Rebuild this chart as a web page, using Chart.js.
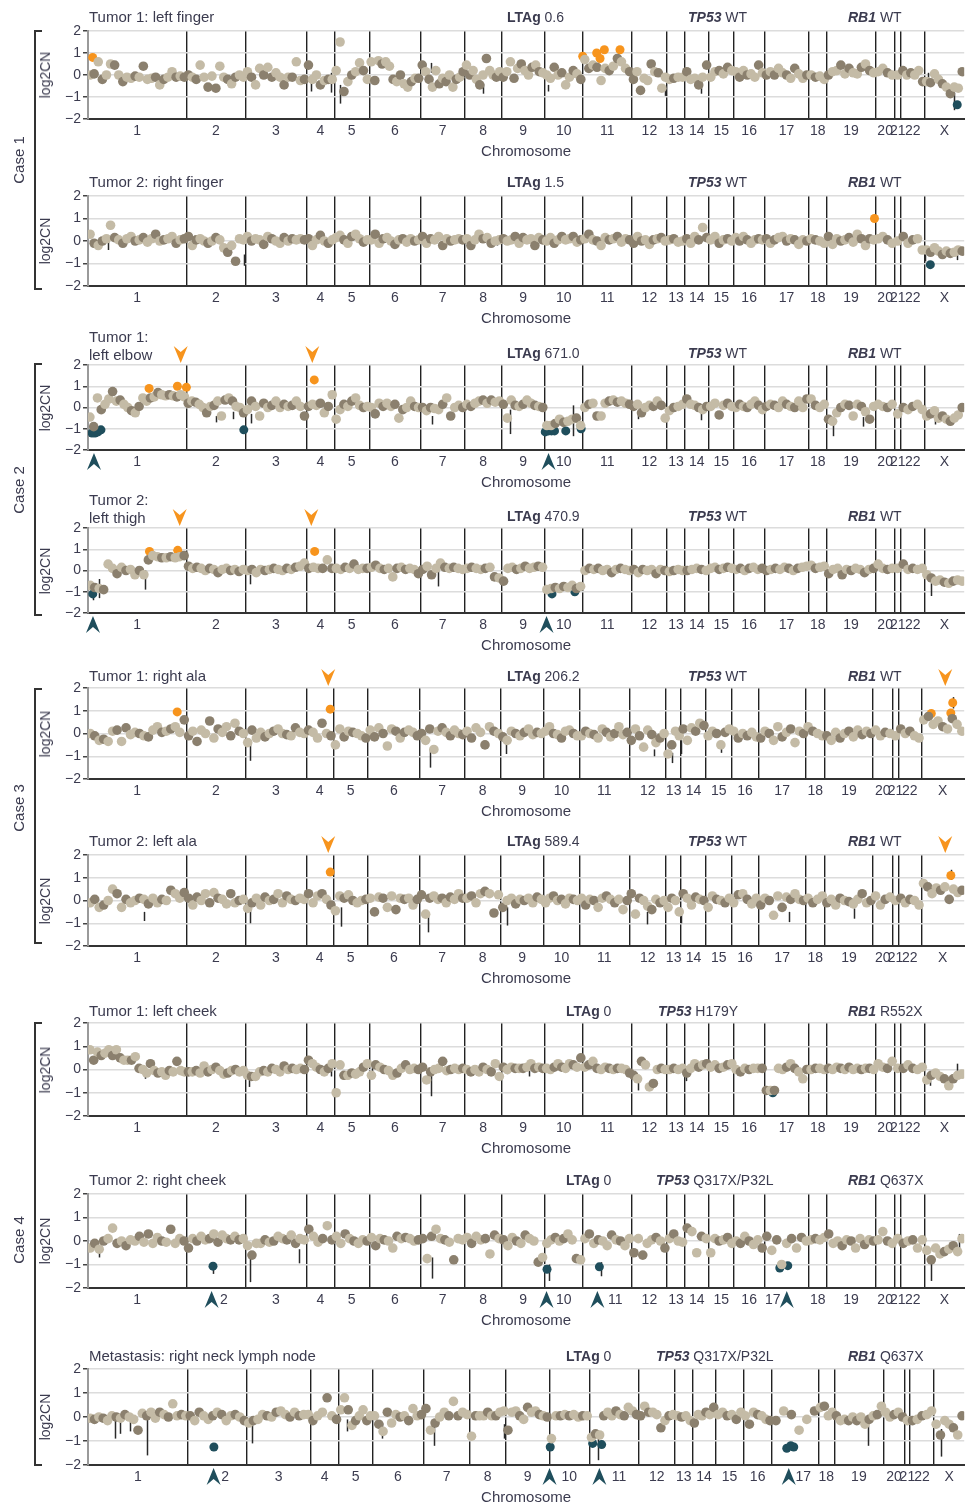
<!DOCTYPE html>
<html>
<head>
<meta charset="utf-8">
<script src="https://cdn.jsdelivr.net/npm/chart.js@4.4.1/dist/chart.umd.min.js"></script>
<style>
  body { margin: 0; width: 969px; height: 1507px; position: relative; background: #fff; overflow: hidden;
         font-family: "Liberation Sans", Arial, sans-serif; color: #3b3b4f; }
  .t { position: absolute; font-size: 15px; line-height: 18px; white-space: nowrap; }
  .g { position: absolute; font-size: 14px; line-height: 18px; white-space: nowrap; }
  .rot { position: absolute; white-space: nowrap; transform: translate(-50%, -50%) rotate(-90deg); }
  .br { position: absolute; border: 2px solid #333; border-right: none; width: 6px; }
  canvas { position: absolute; left: 0; }
</style>
</head>
<body>
<script>
// Chromosome order and relative widths (bins) for the three panel layouts
const chromNames = ['1','2','3','4','5','6','7','8','9','10','11','12','13','14','15','16','17','18','19','20','21','22','X'];
const binsA = [98.7, 59.2, 61.3, 27.8, 35.2, 51.4, 44.4, 36.7, 43.5, 38.1, 49.1, 35.6, 17.7, 23.9, 25.4, 30.5, 44.7, 17.6, 49.5, 18.8, 6.4, 23.8, 39.7];
const binsB = [98.8, 59.2, 61, 27, 35, 51.5, 45.5, 36, 43, 36, 50, 37, 15, 25, 25.5, 27.2, 47.3, 19, 48.7, 19.3, 6, 23, 43];
const binsC = [100.3, 58.7, 64.3, 28.4, 33.6, 51.4, 46, 36.6, 43.4, 40.3, 49.3, 36.7, 17.3, 23.4, 27.6, 29, 46.4, 16, 49.3, 21.3, 5.4, 24, 30.3];

// log2CN per chromosome, case 1 tumor 1 (left finger)
const p1 = [
  [0, 0.05, 0.6, -0.2, 0, 0.5, 0.45, 0, -0.3, -0.1, -0.15, -0.05, -0.1, 0.4, -0.2, -0.15, -0.1, -0.45, -0.2, -0.1, 0.15, -0.1, -0.05, -0.1],
  [0, -0.1, -0.2, 0.45, -0.1, -0.55, -0.05, -0.6, 0.4, -0.1, -0.2, -0.4, -0.1, 0, -0.1],
  [0.15, -0.1, -0.45, 0.3, 0, 0.35, -0.1, 0.1, -0.1, -0.45, -0.1, -0.1, 0.6, -0.25, -0.2],
  [0.45, -0.2, 0, -0.45, -0.25, -0.2, -0.2],
  [0.2, 1.5, -0.75, -0.3, 0, 0.15, 0.55, 0.2, -0.2],
  [0.6, -0.25, 0.65, 0.5, 0.6, 0.4, -0.2, -0.3, 0, -0.4, -0.55, -0.3, -0.15, -0.15],
  [0.45, 0.15, -0.2, -0.55, 0.2, -0.4, -0.15, -0.3, 0, -0.55, -0.2, -0.1, 0.15],
  [0.45, 0, 0.2, -0.2, -0.45, 0, 0.75, 0.2, 0, -0.1, 0.15],
  [-0.1, 0.15, 0.6, -0.15, 0.3, 0.5, 0.2, 0, 0.35, 0.45, 0.15, 0.1],
  [0, -0.15, 0.35, 0, 0.1, -0.45, -0.1, 0.2, 0.05, -0.2],
  [0.7, 0.3, 0.45, 0.35, -0.25, 0.3, 0.2, 0.4, 0.75, 0.6, 0.3, 0.15],
  [-0.2, 0.15, -0.7, -0.15, -0.25, 0.5, 0.15, 0.1, -0.6, -0.1],
  [-0.2, -0.15, -0.1, -0.1],
  [0.15, -0.2, -0.15, -0.45, -0.1, 0.45],
  [-0.1, 0.15, 0.2, 0.05, 0.35, 0.2],
  [0.15, -0.1, 0.2, 0, 0.05, -0.1, 0.45, 0.1],
  [0, 0.15, 0, 0.3, 0.1, 0, -0.15, 0.3, 0.05, -0.15, 0],
  [0, -0.1, -0.05, -0.2],
  [0, 0.15, 0.2, 0.45, 0.05, 0.3, 0.1, 0.05, 0.35, 0.5, 0.2, 0.1],
  [0.15, 0.3, 0.1, 0],
  [0],
  [0.2, 0, 0.1, 0, 0.2, -0.3],
  [-0.3, -0.35, 0.05, -0.2, -0.4, -0.55, -0.85, -0.55, -0.6, 0.15]
];
// case 1 tumor 2 (right finger)
const p2 = [
  [0.3, -0.1, -0.2, 0, 0.1, 0.7, 0.15, 0.05, -0.1, 0.1, 0.2, 0, 0.05, 0.15, -0.05, 0.1, 0.3, 0, 0.05, 0.1, 0.2, -0.1, 0.05, 0.1],
  [0.2, -0.2, 0.05, 0.1, 0, -0.1, 0, 0.15, 0.05, -0.3, -0.5, -0.2, -0.9, 0.1, 0.05],
  [0.2, 0, 0.1, 0.05, -0.15, 0.2, 0.1, 0, -0.1, 0.15, 0, 0.1, 0.05, 0.1, 0.05],
  [0.1, -0.2, 0.05, 0.25, 0, -0.1, 0.05],
  [0.15, 0.25, 0.05, -0.1, 0.2, 0.3, 0.1, -0.05, 0.05],
  [0.05, 0.3, -0.1, 0.1, 0.15, 0, -0.15, 0.05, 0.1, -0.05, 0.1, 0, 0.05],
  [0.2, -0.1, 0.1, 0.05, 0.2, -0.2, 0.1, 0, 0.05, 0.1, 0.05],
  [0.1, -0.2, 0.05, 0.3, 0.1, 0.15, -0.1, 0, 0.05],
  [0.1, 0, 0.05, 0.2, -0.1, 0.15, 0.05, 0.1, -0.2, 0.15, 0.05],
  [0, 0.15, -0.1, 0.05, 0.2, 0.05, 0.1, 0.2, -0.05, 0.05],
  [0.1, 0.3, 0.05, 0, -0.2, 0.15, 0.05, 0.1, 0.2, -0.05, 0.1, 0.05],
  [-0.1, 0.2, 0, 0.05, -0.15, 0.05, 0.1, 0.15, 0],
  [0.05, 0.1, -0.05, 0],
  [0.1, -0.1, 0.2, 0.05, 0.6, 0.15],
  [0.05, 0.2, -0.1, 0.05, 0.1, 0],
  [0.15, 0, 0.2, 0.05, -0.1, 0.05, 0.1, 0.05],
  [0.1, -0.1, 0.05, 0.15, 0.2, 0, 0.1, 0.05, -0.15, 0.05, 0],
  [0.1, 0.05, 0, -0.1],
  [0.2, -0.15, 0.1, 0, 0.05, 0.15, -0.05, 0.3, 0.1, -0.2, 0.1, 0.05],
  [0.1, 0.2, 0.05, -0.1],
  [0],
  [0.2, -0.1, 0.05, 0.1, -0.4],
  [-0.4, -0.5, -0.3, -0.45, -0.6, -0.45, -0.55, -0.5, -0.4, -0.45]
];
// case 2 tumor 1 (left elbow)
const p3 = [
  [-0.45, -0.9, 0.45, -0.1, 0.15, 0.4, 0.75, 0.3, 0.35, 0.15, 0, -0.15, -0.25, 0.05, 0.45, 0.3, 0.45, 0.5, 0.7, 0.6, 0.55, 0.6, 0.55, 0.5, 0.6, 0.5],
  [0.2, 0.3, 0.25, 0.15, 0, -0.25, 0.05, 0.1, 0.3, -0.4, 0.35, 0.45, 0.3, 0.05, 0, -0.25],
  [-0.1, 0.3, 0.05, -0.4, 0.2, 0, 0.1, 0.3, 0, 0.15, 0.05, 0.1, 0.3, 0.05, -0.4],
  [0.05, 0.15, 0.1, 0.2, -0.25, 0.05, 0.6],
  [-0.55, -0.1, 0.15, 0.05, 0.3, 0.45, 0.1, 0, 0.05],
  [0, -0.3, 0.2, 0.05, 0.2, 0.05, 0.15, -0.5, -0.1, 0, 0.3, 0.05, 0],
  [0, -0.15, 0, -0.05, -0.1, 0.15, 0.45, -0.4, 0, 0.1, 0],
  [0.15, 0.05, 0.2, 0.3, 0.35, 0.2, 0.35, 0.25, 0.3],
  [0.15, -0.5, 0.35, 0.1, 0.05, 0.15, 0.35, 0.2, 0.1, 0.05, 0],
  [-0.85, -0.85, -0.75, -0.55, -0.7, -0.65, -0.55, -0.5, -0.85],
  [0, 0.15, 0.2, -0.4, -0.4, 0.2, 0.3, 0.35, 0.25, 0.3, 0.2, 0.15],
  [0.05, 0.15, -0.25, 0, 0.1, 0.05, 0.3, 0.1, -0.5],
  [-0.15, 0, 0.05, 0.15],
  [0.4, 0.15, 0.1, 0, -0.1, 0.05],
  [0.05, 0.2, -0.35, 0.1, 0.2, 0.05],
  [0, 0.15, 0.05, 0, 0.15, 0.3, 0.1, -0.1],
  [0.05, 0.15, 0.1, 0, 0.3, 0.15, 0.05, 0, 0.3, 0, 0.4],
  [0.4, 0.1, 0, 0.15],
  [-0.55, -0.65, -0.25, 0, 0.15, 0.1, -0.4, 0.15, 0.05, -0.2, -0.55, 0.05],
  [0.15, 0.05, 0, 0.15],
  [-0.3],
  [0, -0.1, 0.05, 0.15, -0.1],
  [-0.4, -0.3, -0.15, -0.5, -0.4, -0.55, -0.65, -0.5, -0.35, 0]
];
// case 2 tumor 2 (left thigh)
const p4 = [
  [-0.7, -0.8, -0.85, -0.9, 0.3, 0.1, -0.15, 0.15, 0, 0.05, -0.2, 0, -0.2, 0.5, 0.7, 0.65, 0.6, 0.6, 0.65, 0.6, 0.65, 0.7],
  [0.2, 0.1, 0.15, 0.1, 0, 0.1, 0.05, -0.1, 0.05, 0.1, 0, 0.05, -0.05, 0.05],
  [0, 0.05, -0.1, 0.05, 0, 0.05, 0.1, 0.05, 0, 0.1, 0.05, 0.15, 0.2, 0.35],
  [0.1, 0.15, 0.1, 0.1, 0.5, 0.1],
  [0.1, 0.05, 0.15, 0.1, 0.3, 0.05, 0.1, 0.1],
  [0.15, 0.25, 0.1, 0.05, 0.1, -0.3, 0.1, 0.15, 0.05, 0.1, 0.05, -0.15],
  [0.05, 0.2, -0.2, 0.1, 0.35, 0.15, 0.1, 0.15, 0.1, 0.05],
  [0.1, 0.15, 0.1, 0.05, 0.1, 0.15, -0.3, -0.35],
  [-0.5, 0.1, 0.15, 0.05, 0.1, 0.2, 0.1, 0.15, 0.2, 0.15],
  [-0.9, -0.85, -0.8, -0.85, -0.75, -0.8, -0.7, -0.85, -0.75],
  [0, 0.1, 0.05, 0.1, 0, 0.05, -0.1, 0.05, 0.1, 0.05, 0],
  [0.05, -0.1, 0.05, 0, 0.05, -0.15, 0.05, 0],
  [-0.05, 0, 0.05, 0],
  [0, 0.05, 0.1, 0.05, 0],
  [0.1, 0.15, 0.05, 0.1, 0.15, 0.1],
  [0.05, 0.1, 0, 0.1, 0.15, 0.05, 0.1],
  [0, 0.05, 0.1, 0.05, 0.15, 0.1, 0, 0.1, 0.15, 0.2],
  [0.25, 0.1, 0.15, 0.2],
  [-0.15, 0.05, 0.1, -0.2, 0.05, 0, 0.1, 0.05, -0.1, 0.05, 0.1],
  [0.3, 0.1, 0.05, 0.1],
  [0.1],
  [0.3, 0.05, 0.1, 0.05, 0.1],
  [-0.2, -0.35, -0.5, -0.45, -0.55, -0.6, -0.5, -0.45, -0.5]
];
// case 3 tumor 1 (right ala)
const p5 = [
  [0, -0.1, -0.3, -0.25, -0.35, 0.1, 0.15, -0.35, 0.25, -0.05, 0.05, 0, -0.1, -0.15, 0.15, 0.3, 0.05, 0.1, 0.2, 0.3, 0.05, 0.6],
  [-0.1, 0.1, -0.35, 0.15, 0, 0.55, -0.2, 0.2, 0.05, 0.3, -0.1, 0.45, 0.1, 0],
  [-0.4, 0.15, -0.2, 0.05, -0.15, 0, 0.1, 0.2, 0, -0.05, -0.1, 0.25, 0.05, 0],
  [0.15, 0.05, -0.2, 0.45, 0, -0.1],
  [-0.5, 0.2, -0.15, 0.1, 0.05, 0, -0.1, -0.2],
  [0.15, -0.15, 0.25, 0, -0.55, 0.2, 0.1, -0.2, 0.05, 0.15, 0.05, -0.1],
  [0, -0.3, 0.2, -0.7, 0.1, 0.25, 0.05, -0.1, 0.15, 0, -0.05],
  [0.1, -0.2, 0.25, 0.05, -0.5, 0.3, 0.1, 0],
  [-0.15, -0.3, 0.1, 0, -0.1, 0.05, 0.2, -0.05, 0.05, 0],
  [0.1, 0.3, 0, -0.05, -0.2, 0.1, 0.15, 0, -0.1],
  [-0.1, 0.1, 0, -0.05, -0.2, 0.2, 0.05, -0.15, 0, 0.3, -0.05, 0.05],
  [-0.3, 0.2, -0.1, -0.6, 0.15, -0.05, -0.4, -0.2, 0],
  [-0.9, -0.5, 0.1, -0.1],
  [0.2, -0.3, 0.25, 0.1, 0.45, 0.35],
  [-0.1, 0.1, 0, -0.5, 0.05, 0.2],
  [0.1, -0.2, 0, -0.1, 0.05, -0.15],
  [-0.2, 0.1, 0, -0.3, 0.3, -0.15, 0.05, 0.2, -0.4, 0.1, 0],
  [0.3, 0.1, 0, -0.1],
  [-0.1, -0.3, 0.05, -0.2, 0, 0.1, -0.15, 0.15, -0.05, 0.1, 0],
  [0.15, -0.1, 0.05, 0],
  [-0.1],
  [0.2, 0, 0.1, -0.1, -0.2],
  [0.6, 0.75, 0.4, 0.55, 0.3, 0.2, 0.65, 0.4, 0.1]
];
// case 3 tumor 2 (left ala)
const p6 = [
  [-0.1, 0.05, -0.3, -0.2, 0, 0.5, 0.3, -0.3, 0.05, -0.1, 0, 0.1, 0.05, -0.15, 0.1, -0.1, 0.05, 0, 0.45, 0.3, 0.1, 0.35],
  [0.1, -0.2, 0.15, 0, 0.3, -0.1, 0.35, 0.1, 0.05, -0.15, 0.3, -0.1, 0, 0.05],
  [-0.35, -0.1, 0.1, -0.2, 0.15, 0, 0.05, 0.3, -0.1, 0.2, 0.05, 0, 0.1, 0.05],
  [0.3, -0.1, 0.2, 0.3, 0.05, -0.2],
  [-0.45, 0.2, 0.1, 0.25, 0, -0.1, 0, 0.05],
  [0.1, -0.5, 0.15, 0.1, -0.3, 0.2, -0.4, 0.1, 0.05, 0.1, -0.2, 0.05],
  [0.25, -0.6, 0.1, 0.2, 0.05, 0.1, -0.1, 0.15, 0.05, 0.3, 0.1],
  [0.1, 0.2, -0.1, 0.3, 0.4, 0.3, -0.55, 0.25],
  [-0.3, 0, 0.1, -0.15, 0.05, 0, 0.1, -0.1, 0.15, 0.05],
  [-0.1, 0.1, 0.2, 0, 0.05, -0.15, 0.1, 0.05, 0],
  [0.1, -0.2, 0.05, 0, -0.3, 0.1, 0.2, 0.05, -0.1, 0.05, -0.4, 0],
  [0.3, -0.6, 0.1, 0, -0.25, -0.4, 0.05, -0.1, 0],
  [-0.3, 0.1, 0, -0.5],
  [0.3, 0.1, -0.2, 0.15, 0.05, 0],
  [-0.3, 0.2, 0.05, 0, -0.1, 0.1],
  [-0.1, 0.25, 0.3, 0.05, -0.15, 0.1],
  [-0.2, 0.1, 0, -0.65, 0.2, -0.3, 0.15, 0.05, 0.3, 0.05, 0],
  [0.1, -0.1, 0.05, 0.2],
  [-0.1, 0.05, -0.2, 0.1, 0, -0.05, -0.15, 0.05, 0.3, -0.1, 0],
  [0.2, -0.2, 0.05, 0.15],
  [0],
  [0.1, -0.1, 0.05, 0, -0.2],
  [0.75, 0.6, 0.3, 0.55, 0.45, 0.6, 0.05, 0.5, 0.35, 0.45]
];
// case 4 tumor 1 (left cheek)
const p7 = [
  [0.85, 0.4, 0.75, 0.6, 0.7, 0.85, 0.6, 0.85, 0.5, 0.4, 0.4, 0.4, 0.55, 0.05, 0, -0.15, 0.25, -0.05, -0.15, -0.1, -0.25, -0.05, -0.1, 0.35, -0.05, -0.1],
  [-0.1, -0.1, -0.05, -0.15, 0.15, -0.1, 0, 0.1, -0.05, -0.2, -0.15, -0.05, 0, -0.1, -0.05],
  [-0.25, -0.3, -0.3, -0.1, -0.05, -0.1, 0.05, 0, -0.1, 0.15, 0, 0.05, 0, 0.05, 0],
  [0.4, 0.25, 0.1, 0, -0.1, 0.05, 0.25],
  [-1.0, 0.2, -0.25, -0.25, -0.15, -0.2, -0.1, 0.1, 0.25],
  [-0.25, 0.2, 0.1, 0, -0.05, -0.25, -0.15, 0.05, 0.2, 0, 0.05, 0],
  [0.1, -0.45, -0.1, 0, 0.05, 0.35, -0.05, 0, 0.05, 0, 0.05],
  [0, -0.1, 0, -0.1, 0.1, 0, -0.1, 0.25, -0.3],
  [0.1, 0, 0.1, 0.05, 0.05, 0.05, 0.1, 0.25, 0.05, 0.1, 0.05],
  [0.05, 0, 0.1, 0.25, 0.1, 0.05, 0.25, 0.2, 0.1, 0.5],
  [0.1, 0.2, 0.35, 0.05, 0, 0.1, 0.05, 0, 0.05, 0.05, 0, -0.15],
  [-0.25, -0.4, 0.35, 0.2, -0.75, -0.6, 0, 0.05, 0],
  [0, 0.05, 0, 0.05],
  [-0.15, 0.05, 0.25, 0.1, 0.2, 0.25],
  [0.1, 0.2, 0.05, 0.1, 0.2, 0.25],
  [0, -0.1, 0.05, 0, 0.05, 0.05, 0.05],
  [-0.9, -0.9, -0.9, 0.05, 0, 0.1, 0.25, 0.05, -0.1, -0.4, 0],
  [0, 0.05, 0.05, 0],
  [0.05, 0, 0.1, 0.05, 0, 0.1, 0, 0.05, 0, 0.05, 0.05, 0],
  [0.25, 0.1, 0.05, 0.35],
  [0.05],
  [0.05, 0.2, 0.05, 0, 0.1],
  [-0.45, -0.25, -0.15, -0.3, -0.4, -0.7, -0.4, -0.25, -0.2]
];
// case 4 tumor 2 (right cheek)
const p8 = [
  [-0.3, -0.1, -0.35, 0, 0.1, 0.55, -0.1, 0, -0.2, 0.05, 0, 0.2, -0.05, 0.3, -0.1, 0.15, 0, -0.05, 0.5, -0.1, 0.1, 0],
  [-0.3, 0.1, 0, 0.2, 0.05, 0.1, 0.3, -0.05, 0.25, 0.1, 0.05, 0.2, 0.05, 0.1],
  [-0.2, -0.6, -0.1, -0.1, 0.05, -0.05, 0, 0.2, 0.1, 0.05, 0.25, -0.1, 0.1, 0.05],
  [0.5, 0.2, -0.05, 0.1, 0.65, 0.05],
  [0.2, -0.1, 0.3, 0.1, 0, -0.1, 0.05, 0],
  [0.15, -0.2, 0.1, 0.05, 0, -0.3, 0.2, 0.1, 0.15, 0.1, 0, 0.05],
  [0.1, -0.75, 0.2, 0.5, 0.1, 0.05, -0.05, -0.8, 0.1, 0.05],
  [0.15, -0.1, 0.2, 0.05, 0.1, -0.55, 0.25, 0.1],
  [0.05, -0.2, 0.15, 0, -0.1, 0.25, 0.1, 0, -0.9, -0.7],
  [-0.1, 0.05, 0.15, 0, 0.1, 0.3, 0.05, -0.75, -0.8],
  [0.1, 0.3, -0.1, 0.05, 0, -0.2, 0.25, 0.05, 0, -0.2, 0.1],
  [-0.5, 0.1, -0.6, -0.1, 0.05, 0.15, 0, -0.3],
  [0.1, 0.3, 0, -0.05],
  [0.55, 0.4, -0.5, 0.2, 0.1],
  [-0.5, 0.1, 0, 0.05, 0.15, -0.1],
  [0, -0.1, 0.2, 0, -0.15, 0.05, -0.3],
  [0.2, -0.4, 0.05, -1.0, -0.1, 0.1, -0.3, 0.15, 0],
  [0.05, 0.1, 0.05, 0.15],
  [0.3, -0.1, 0, -0.2, 0.05, 0, -0.3, 0.1, -0.15, 0.05, 0],
  [0.05, 0.4, 0, -0.1],
  [0.1],
  [-0.1, 0, 0.05, -0.3, 0.05],
  [-0.4, -0.8, -0.3, -0.55, -0.45, -0.35, -0.2, -0.45, 0.1]
];
// case 4 metastasis (right neck lymph node)
const p9 = [
  [-0.05, -0.1, 0, -0.05, -0.15, 0.05, 0, -0.05, 0.1, 0, -0.1, -0.55, 0.15, 0.05, 0.2, -0.05, 0.2, 0.1, 0, 0.55, 0.05, 0.1, 0.05],
  [0.05, -0.15, 0.2, 0.05, -0.1, 0.05, 0.2, 0.1, -0.15, 0.05, 0.1, 0, -0.15],
  [-0.25, -0.15, -0.1, 0.1, 0.05, 0, 0.2, 0.25, 0.1, 0, 0.2, 0.05, 0.1, 0.1],
  [-0.15, 0.05, 0.2, 0.8, 0.05, -0.1],
  [0.3, 0.8, 0.3, -0.35, -0.15, 0.05, 0.3, -0.15, 0.05],
  [0.05, -0.3, -0.6, 0.2, -0.25, 0.1, 0, 0.05, -0.15, 0.35, 0.05, 0.1],
  [0.35, -0.55, -0.25, 0, 0.2, 0.05, 0.65, 0.05, 0.2, 0.1],
  [-0.8, 0.05, 0.05, 0.05, 0.2, 0.05, 0.05, 0.2, 0.25],
  [-0.55, 0.2, 0.25, 0.05, -0.1, 0.4, 0.2, 0.25, 0.1, 0.05, 0],
  [-0.9, 0.05, 0.05, 0.1, 0.05, 0.1, 0, 0.05, 0.05],
  [-0.85, -0.7, -0.75, 0.05, 0.2, 0.05, 0.25, 0.1, 0.05, 0.4, 0.25, 0.1],
  [0.05, 0.45, 0.2, 0.2, 0.1, -0.45, -0.15, 0.05, 0.1],
  [0.05, 0, 0.05, -0.15],
  [-0.25, 0.1, 0.05, 0.2, 0.1, 0.4],
  [0.1, 0.2, 0.05, 0.1, -0.1, 0.2],
  [0.05, -0.3, 0.2, 0.1, 0.05, -0.1, -0.15],
  [-0.15, 0.25, 0.1, -0.55, -0.1, 0.25],
  [0.4, 0.45, 0.05, 0.2],
  [0.05, -0.15, -0.1, -0.15, 0, -0.15, 0, -0.3, -0.1, 0.05, 0.1, 0.45],
  [0.2, 0, 0.1, 0.2, 0],
  [-0.15],
  [-0.15, -0.1, 0.05, 0.1, 0.25],
  [-0.3, -0.75, -0.15, -0.3, -0.45, -0.75, 0.05]
];

// highlighted gains (orange) and losses (teal): [genome position, log2CN]
const gains1 = [[4.7, 0.8], [496.3, 0.85], [510.3, 1.0], [513.7, 0.75], [518, 1.15], [533.7, 1.15]];
const losses1 = [[872, -1.35]];
const gains2 = [[789, 1.0]];
const losses2 = [[845, -1.05]];
const gains3 = [[61.3, 0.9], [89.7, 1.0], [98.7, 0.95], [227, 1.3]];
const losses3 = [[4, -1.2], [7, -1.2], [10, -1.15], [13, -1.05], [156.3, -1.05], [458.7, -1.15], [462, -1.1], [465, -1.1], [468, -1.1], [479.3, -1.1], [494.7, -1.0]];
const gains4 = [[61.7, 0.9], [90, 0.95], [227.4, 0.9]];
const losses4 = [[4.8, -1.1], [465.5, -1.1], [488.4, -1.0]];
const gains5 = [[89.5, 0.95], [243, 1.07], [846, 0.88], [865.6, 0.9], [867.5, 1.35]];
const gains6 = [[243, 1.25], [865.6, 1.1]];
const losses7 = [[687, -1.0]];
const losses8 = [[125.4, -1.07], [460.5, -1.2], [513, -1.1], [694, -1.15], [702, -1.05]];
const losses9 = [[126.3, -1.25], [463.7, -1.25], [506.3, -1.1], [515.3, -1.15], [701, -1.3], [705, -1.2], [708, -1.25]];

// error bars: [genome position, upper, lower]
const errors1 = [[224, -0.3, -0.75], [244, 0.1, -0.8], [253, -0.45, -1.3], [344, 0.55, 0.1], [396, -0.4, -0.85], [461, -0.45, -0.75], [579, -0.6, -0.95], [615, -0.2, -0.85], [843, 0.1, -0.25], [869, -0.8, -1.6]];
const errors2 = [[20, 0, -0.4], [157, -0.6, -1.1], [410, 0.2, -0.2], [840, -0.4, -0.9], [872, -0.35, -0.85]];
const errors3 = [[128.7, -0.4, -0.7], [145, -0.2, -0.55], [163.7, -0.3, -0.75], [344.7, -0.4, -0.8], [423, -0.1, -1.25], [487, 0.1, -1.35], [552, -0.25, -0.55], [614.7, 0, -0.6], [747, -0.55, -1.35], [777, -0.45, -0.9], [850, -0.5, -0.8]];
const errors4 = [[4.8, -0.9, -1.4], [11, -0.4, -1.3], [57, 0, -0.9], [162.5, -0.2, -0.65], [351, 0, -0.75], [487, -0.6, -1.2], [846, -0.6, -1.2]];
const errors5 = [[162.5, -0.3, -1.2], [343, -0.7, -1.5], [419, -0.3, -0.9], [567.5, -0.7, -1.0], [586, -0.85, -1.3], [595, -0.3, -0.9], [635.5, -0.4, -0.85], [867.5, 1.6, 1.1]];
const errors6 = [[56, -0.5, -0.9], [162.5, -0.4, -1.0], [254, -0.3, -1.15], [340.6, -0.6, -1.4], [420, -0.3, -1.1], [561, -0.5, -1.05], [595, -0.35, -1.0], [703.6, -0.5, -0.95], [768.5, -0.35, -0.8], [865.6, 1.35, 0.9]];
const errors7 = [[57, -0.2, -0.4], [162, -0.2, -0.75], [243.7, 0.35, -0.3], [247, -0.8, -1.2], [285.3, 0.3, -0.35], [344, -0.2, -1.15], [420, 0.1, -0.2], [442, 0.35, -0.3], [552, -0.4, -0.9], [600, 0.15, -0.5], [845, -0.1, -0.7], [872, 0.25, -0.1]];
const errors8 = [[11, -0.2, -0.7], [125.4, -0.9, -1.4], [162.5, -0.5, -1.75], [212, -0.35, -0.95], [345, -0.7, -1.6], [462.4, -1.0, -1.7], [515, -0.9, -1.5], [846, -0.8, -1.7], [873.7, 0.3, -0.3]];
const errors9 = [[27, -0.1, -0.9], [32, -0.15, -0.7], [42, -0.1, -0.6], [58.7, -0.1, -1.6], [164.7, -0.2, -1.1], [260.3, -0.1, -0.6], [295.3, -0.25, -0.9], [347, -0.4, -1.2], [417, -0.3, -0.9], [512, -0.85, -1.8], [782, -0.35, -1.2], [855.3, -0.5, -1.65]];

// arrowheads: positions on the genome axis
const downArrows3 = [93, 225], upArrows3 = [6, 462];
const downArrows4 = [92, 224], upArrows4 = [5, 460];
const downArrows5 = [241, 860];
const downArrows6 = [241, 860];
const upArrows8 = [124, 460, 511, 701];
const upArrows9 = [126, 463, 513, 703];

const titles = [['Tumor 1: left finger'], ['Tumor 2: right finger'], ['Tumor 1:', 'left elbow'], ['Tumor 2:', 'left thigh'],
  ['Tumor 1: right ala'], ['Tumor 2: left ala'], ['Tumor 1: left cheek'], ['Tumor 2: right cheek'], ['Metastasis: right neck lymph node']];
const ltagValues = ['0.6', '1.5', '671.0', '470.9', '206.2', '589.4', '0', '0', '0'];
const tp53Status = ['WT', 'WT', 'WT', 'WT', 'WT', 'WT', 'H179Y', 'Q317X/P32L', 'Q317X/P32L'];
const rb1Status = ['WT', 'WT', 'WT', 'WT', 'WT', 'WT', 'R552X', 'Q637X', 'Q637X'];
const caseNames = ['Case 1', 'Case 2', 'Case 3', 'Case 4'];

const panels = [
  { bins: binsA, values: p1, gains: gains1, losses: losses1, errors: errors1, down: [], up: [] },
  { bins: binsA, values: p2, gains: gains2, losses: losses2, errors: errors2, down: [], up: [] },
  { bins: binsA, values: p3, gains: gains3, losses: losses3, errors: errors3, down: downArrows3, up: upArrows3 },
  { bins: binsA, values: p4, gains: gains4, losses: losses4, errors: errors4, down: downArrows4, up: upArrows4 },
  { bins: binsB, values: p5, gains: gains5, losses: [], errors: errors5, down: downArrows5, up: [] },
  { bins: binsB, values: p6, gains: gains6, losses: [], errors: errors6, down: downArrows6, up: [] },
  { bins: binsA, values: p7, gains: [], losses: losses7, errors: errors7, down: [], up: [] },
  { bins: binsA, values: p8, gains: [], losses: losses8, errors: errors8, down: [], up: upArrows8 },
  { bins: binsC, values: p9, gains: [], losses: losses9, errors: errors9, down: [], up: upArrows9 }
];

// page layout (pixels); labelShift moves chromosome labels clear of arrowheads
const layout = [
  { top: 31, bottom: 119, titleY: 17, geneY: 17, gx: [507, 688, 848] },
  { top: 196, bottom: 286, titleY: 182, geneY: 182, gx: [507, 688, 848] },
  { top: 365, bottom: 450, titleY: 337, geneY: 353, gx: [507, 688, 848] },
  { top: 528, bottom: 613, titleY: 500, geneY: 516, gx: [507, 688, 848] },
  { top: 688, bottom: 779, titleY: 676, geneY: 676, gx: [507, 688, 848] },
  { top: 855, bottom: 946, titleY: 841, geneY: 841, gx: [507, 688, 848] },
  { top: 1023, bottom: 1116, titleY: 1011, geneY: 1011, gx: [566, 658, 848] },
  { top: 1194, bottom: 1288, titleY: 1180, geneY: 1180, gx: [566, 656, 848], labelShift: { 1: 8, 10: 8, 16: -14 } },
  { top: 1369, bottom: 1465, titleY: 1356, geneY: 1356, gx: [566, 656, 848], labelShift: { 1: 8, 10: 5, 16: 8 } }
];
const caseLayout = [
  { top: 30, bottom: 290, cy: 160 },
  { top: 363, bottom: 616, cy: 490 },
  { top: 688, bottom: 944, cy: 808 },
  { top: 1022, bottom: 1466, cy: 1240 }
];

const LIGHT = '#c4bba6', DARK = '#8b806e', ORANGE = '#f7941d', TEAL = '#1f4e5c';
const FONT = '"Liberation Sans", Arial, sans-serif';
const TEXT = '#3b3b4f';

function addDiv(cls, html, style) {
  const d = document.createElement('div');
  d.className = cls;
  d.innerHTML = html;
  d.style.cssText = style;
  document.body.appendChild(d);
  return d;
}

// error bars under the points, arrowheads outside the plot area
const markPlugin = {
  id: 'marks',
  beforeDatasetsDraw(chart, args, opts) {
    const { ctx } = chart;
    const x = chart.scales.x, y = chart.scales.y;
    ctx.save();
    ctx.strokeStyle = '#2a2a2a';
    ctx.lineWidth = 1.5;
    opts.errors.forEach(e => {
      const px = Math.round(x.getPixelForValue(e[0])) + 0.5;
      ctx.beginPath();
      ctx.moveTo(px, y.getPixelForValue(e[1]));
      ctx.lineTo(px, y.getPixelForValue(e[2]));
      ctx.stroke();
    });
    ctx.restore();
  },
  afterDraw(chart, args, opts) {
    const { ctx, chartArea } = chart;
    const x = chart.scales.x;
    const head = (px, tipY, dir, color) => {
      ctx.beginPath();
      ctx.moveTo(px, tipY);
      ctx.lineTo(px - 7, tipY - dir * 17);
      ctx.lineTo(px, tipY - dir * 11);
      ctx.lineTo(px + 7, tipY - dir * 17);
      ctx.closePath();
      ctx.fillStyle = color;
      ctx.fill();
    };
    ctx.save();
    opts.down.forEach(v => head(x.getPixelForValue(v), chartArea.top - 2, 1, ORANGE));
    opts.up.forEach(v => head(x.getPixelForValue(v), chartArea.bottom + 3, -1, TEAL));
    ctx.restore();
  }
};

panels.forEach((p, k) => {
  const L = layout[k];
  const padTop = 26, axisH = 48;
  const canvas = document.createElement('canvas');
  canvas.width = 969;
  canvas.height = padTop + (L.bottom - L.top) + axisH;
  canvas.style.top = (L.top - padTop) + 'px';
  document.body.appendChild(canvas);

  const starts = [];
  let acc = 0;
  p.bins.forEach(b => { starts.push(acc); acc += b; });
  const total = acc;
  const shift = L.labelShift || {};
  const labelPos = starts.map((s, c) => s + p.bins[c] / 2 + (shift[c] || 0));

  const pts = [], cols = [];
  p.values.forEach((vals, c) => vals.forEach((v, i) => {
    pts.push({ x: starts[c] + (i + 0.5) * p.bins[c] / vals.length, y: v });
    cols.push(((i + c) % 5) % 2 === 1 ? DARK : LIGHT);
  }));

  new Chart(canvas, {
    type: 'scatter',
    data: {
      datasets: [
        { data: pts, pointBackgroundColor: cols, pointRadius: 4.8, pointBorderWidth: 0 },
        { data: p.gains.map(g => ({ x: g[0], y: g[1] })), pointBackgroundColor: ORANGE, pointRadius: 4.5, pointBorderWidth: 0 },
        { data: p.losses.map(g => ({ x: g[0], y: g[1] })), pointBackgroundColor: TEAL, pointRadius: 4.5, pointBorderWidth: 0 }
      ]
    },
    options: {
      responsive: false,
      animation: false,
      devicePixelRatio: 1,
      events: [],
      layout: { padding: { top: padTop, right: 2, left: 0, bottom: 0 } },
      plugins: { legend: { display: false }, tooltip: { enabled: false },
                 marks: { down: p.down, up: p.up, errors: p.errors } },
      scales: {
        x: {
          type: 'linear', min: 0, max: total, position: 'bottom',
          afterBuildTicks: s => { s.ticks = labelPos.map(v => ({ value: v })); },
          afterFit: s => { s.height = axisH; },
          grid: { display: false, drawTicks: false },
          border: { display: true, color: '#333', width: 2 },
          ticks: { autoSkip: false, maxRotation: 0, padding: 4, color: TEXT, font: { family: FONT, size: 14 },
                   callback: (v, i) => chromNames[i] },
          title: { display: true, text: 'Chromosome', color: TEXT, font: { family: FONT, size: 15 }, padding: { top: 0, bottom: 6 } }
        },
        xb: {
          type: 'linear', min: 0, max: total, position: 'bottom',
          afterBuildTicks: s => { s.ticks = starts.slice(1).map(v => ({ value: v })); },
          afterFit: s => { s.height = 0; },
          grid: { color: '#222', lineWidth: 1.4, drawTicks: false },
          border: { display: false },
          ticks: { display: false }
        },
        y: {
          min: -2, max: 2,
          afterFit: s => { s.width = 88; },
          grid: { color: '#dcdcdc', lineWidth: 1.5, tickColor: '#444', tickLength: 5 },
          border: { display: true, color: '#9a9a9a', width: 2 },
          ticks: { stepSize: 1, padding: 2, color: TEXT, font: { family: FONT, size: 14 },
                   callback: v => (v < 0 ? '\u2212' + Math.abs(v) : String(v)) }
        }
      }
    },
    plugins: [markPlugin]
  });

  // panel title, gene status and y title
  addDiv('t', titles[k].join('<br>'), `left:89px;top:${L.titleY - 9}px;`);
  addDiv('g', `<b>LTAg</b> ${ltagValues[k]}`, `left:${L.gx[0]}px;top:${L.geneY - 9}px;`);
  addDiv('g', `<b><i>TP53</i></b> ${tp53Status[k]}`, `left:${L.gx[1]}px;top:${L.geneY - 9}px;`);
  addDiv('g', `<b><i>RB1</i></b> ${rb1Status[k]}`, `left:${L.gx[2]}px;top:${L.geneY - 9}px;`);
  addDiv('rot', 'log2CN', `left:45px;top:${(L.top + L.bottom) / 2}px;font-size:14px;`);
});

caseLayout.forEach((c, i) => {
  addDiv('br', '', `left:34px;top:${c.top}px;height:${c.bottom - c.top - 4}px;`);
  addDiv('rot', caseNames[i], `left:18px;top:${c.cy}px;font-size:15px;`);
});
</script>
</body>
</html>
